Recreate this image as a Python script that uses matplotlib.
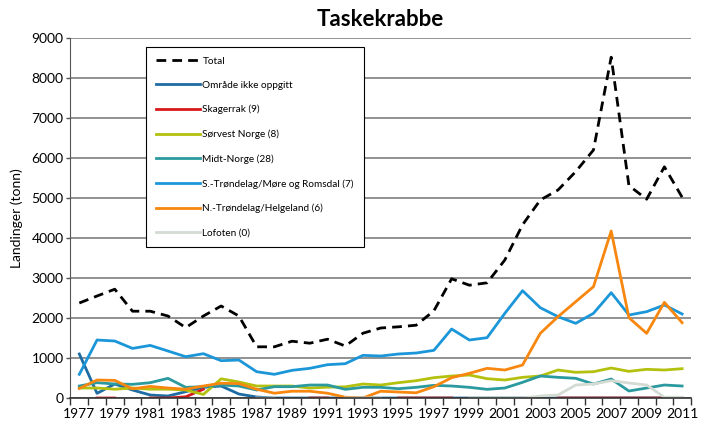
import matplotlib.pyplot as plt
import numpy as np

nan = np.nan
years = list(range(1977, 2012))

total = [2375, 2550, 2720, 2170, 2170, 2050, 1760, 2050, 2300, 2050,
         1280, 1280, 1420, 1370, 1470, 1300, 1620, 1750, 1780, 1820,
         2180, 2980, 2820, 2880, 3450, 4330, 4950, 5200, 5660, 6200,
         8520, 5310, 4970, 5780, 5020]
omrade = [1100, 117, 350, 200, 75, 50, 158, 267, 300, 100,
          25, 0, 0, 0, 0, 0, 0, 0, 0, 0,
          0, 0, 0, 0, 0, 0, 0, 0, 0, 0,
          0, 0, 0, 0, nan]
skagerrak = [nan, 0, 0, nan, 0, 0, 30, 220, nan, nan,
             nan, nan, nan, 0, 0, nan, nan, nan, 0, 0,
             0, 0, nan, nan, nan, nan, nan, 0, 0, 0,
             0, 0, 0, 0, 0]
sorvest = [250, 250, 220, 250, 220, 220, 200, 90, 480, 400,
           300, 300, 300, 250, 270, 280, 350, 325, 383, 433,
           508, 550, 575, 483, 450, 517, 550, 700, 642, 658,
           750, 667, 717, 700, 733]
midt = [300, 383, 350, 342, 383, 492, 267, 283, 325, 300,
        200, 283, 283, 325, 325, 217, 267, 267, 233, 267,
        317, 300, 267, 217, 250, 392, 550, 517, 492, 350,
        475, 175, 250, 325, 300]
s_trondelag = [592, 1450, 1425, 1240, 1315, 1175, 1033, 1108, 933, 950,
               658, 592, 692, 742, 833, 858, 1067, 1050, 1100, 1125,
               1192, 1725, 1450, 1508, 2117, 2683, 2258, 2033, 1867, 2117,
               2633, 2075, 2158, 2325, 2100]
n_trondelag = [240, 450, 440, 230, 290, 250, 220, 300, 370, 360,
               220, 120, 170, 170, 120, 20, 0, 170, 150, 130,
               283, 508, 617, 742, 700, 825, 1617, 2033, 2408, 2783,
               4175, 2008, 1617, 2392, 1883]
lofoten = [nan, nan, nan, nan, nan, nan, nan, nan, nan, nan,
           0, 0, nan, nan, nan, 0, 0, 0, nan, nan,
           nan, nan, 0, 0, 0, 0, 50, 75, 325, 350,
           433, 375, 325, 20, 20]

series = [
    ("Område ikke oppgitt", omrade, "#1d6ca3"),
    ("Skagerrak (9)", skagerrak, "#d7191c"),
    ("Sørvest Norge (8)", sorvest, "#b3c10e"),
    ("Midt-Norge (28)", midt, "#2a9a9f"),
    ("S.-Trøndelag/Møre og Romsdal (7)", s_trondelag, "#1b96d8"),
    ("N.-Trøndelag/Helgeland (6)", n_trondelag, "#f7870f"),
    ("Lofoten (0)", lofoten, "#d3dbd3"),
]

plt.rcParams['font.family'] = ['Lato', 'DejaVu Sans']

fig = plt.figure(figsize=(7.01, 4.25), dpi=100)
ax = fig.add_axes([0.1005, 0.0635, 0.8852, 0.8471])

x = np.arange(len(years))
ax.plot(x, total, color="black", lw=2.0, dashes=(3.5, 2.2), label="Total", zorder=3)
for name, vals, col in series:
    ax.plot(x, vals, color=col, lw=2.0, label=name, zorder=2)

ax.set_xlim(-0.5, len(years) - 0.5)
ax.set_ylim(0, 9000)
ax.set_yticks(range(0, 9001, 1000))
ax.tick_params(axis='y', labelsize=10, length=3, width=1, color="#555555", pad=2)
ax.yaxis.grid(True, color="#7f7f7f", lw=1.2)
ax.set_axisbelow(True)

ax.set_xticks(x[::2])
ax.set_xticklabels([str(y) for y in years[::2]], fontsize=10)
ax.set_xticks(np.arange(-0.5, len(years), 1), minor=True)
ax.tick_params(axis='x', which='major', length=0, pad=7)
ax.tick_params(axis='x', which='minor', length=5, width=1, color="#333333")

for s in ["top", "right"]:
    ax.spines[s].set_visible(False)
ax.spines["left"].set_color("#555555")
ax.spines["bottom"].set_color("#333333")
ax.spines["bottom"].set_linewidth(1.2)

ax.set_ylabel("Landinger (tonn)", fontsize=10, labelpad=6)
fig.text(0.5425, 0.953, "Taskekrabbe", ha="center", va="center",
         fontsize=16, fontweight="bold")

leg = ax.legend(loc="upper left", bbox_to_anchor=(146 / 701, 1 - 47 / 425),
                bbox_transform=fig.transFigure, fontsize=7.2, frameon=True,
                fancybox=False, edgecolor="black", framealpha=1,
                handlelength=4.4, handletextpad=0.3, labelspacing=1.52,
                borderpad=0.95, borderaxespad=0)
leg.get_frame().set_linewidth(0.8)

fig.savefig("out.png", dpi=100)
